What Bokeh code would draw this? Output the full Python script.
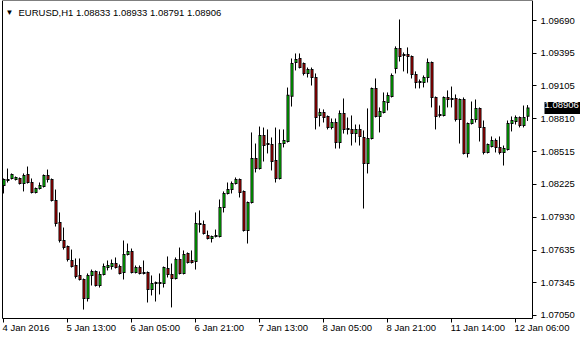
from bokeh.plotting import figure
from bokeh.models import Range1d, FixedTicker, Label, NumeralTickFormatter, LinearAxis
from bokeh.embed import file_html
from bokeh.resources import INLINE

open_ = [1.08213, 1.08258, 1.08276, 1.08267, 1.08276, 1.08231, 1.08312, 1.08240, 1.08151, 1.08186,
         1.08204, 1.08303, 1.08267, 1.08079, 1.07882, 1.07721, 1.07667, 1.07542, 1.07497, 1.07408,
         1.07372, 1.07202, 1.07408, 1.07444, 1.07318, 1.07417, 1.07479, 1.07488, 1.07515, 1.07488,
         1.07435, 1.07596, 1.07623, 1.07435, 1.07479, 1.07426, 1.07435, 1.07282, 1.07336, 1.07336,
         1.07336, 1.07470, 1.07417, 1.07381, 1.07551, 1.07426, 1.07605, 1.07542, 1.07533, 1.07873,
         1.07864, 1.07765, 1.07739, 1.07757, 1.07757, 1.08016, 1.08142, 1.08177, 1.08231, 1.08267,
         1.08160, 1.07810, 1.08061, 1.08455, 1.08365, 1.08661, 1.08589, 1.08580, 1.08437, 1.08276,
         1.08589, 1.08607, 1.09011, 1.09314, 1.09350, 1.09305, 1.09216, 1.09251, 1.09180, 1.08840,
         1.08867, 1.08831, 1.08733, 1.08777, 1.08598, 1.08858, 1.08715, 1.08715, 1.08679, 1.08715,
         1.08643, 1.08410, 1.08634, 1.09081, 1.08831, 1.08867, 1.08956, 1.09010, 1.09261, 1.09440,
         1.09386, 1.09386, 1.09368, 1.09207, 1.09135, 1.09135, 1.09180, 1.09314, 1.09001, 1.08840,
         1.08840, 1.09001, 1.08983, 1.08992, 1.08804, 1.08983, 1.08500, 1.08768, 1.08804, 1.08903,
         1.08733, 1.08509, 1.08562, 1.08616, 1.08554, 1.08509, 1.08535, 1.08768, 1.08786, 1.08822,
         1.08750, 1.08833]
high = [1.08276, 1.08365, 1.08321, 1.08294, 1.08285, 1.08321, 1.08383, 1.08276, 1.08195, 1.08240,
        1.08312, 1.08356, 1.08276, 1.08177, 1.07972, 1.07837, 1.07676, 1.07640, 1.07560, 1.07560,
        1.07381, 1.07426, 1.07461, 1.07453, 1.07444, 1.07515, 1.07542, 1.07551, 1.07569, 1.07506,
        1.07721, 1.07694, 1.07649, 1.07497, 1.07497, 1.07542, 1.07444, 1.07408, 1.07354, 1.07426,
        1.07488, 1.07578, 1.07515, 1.07569, 1.07658, 1.07632, 1.07614, 1.07632, 1.07972, 1.07990,
        1.07900, 1.07810, 1.07765, 1.07819, 1.08088, 1.08160, 1.08240, 1.08249, 1.08285, 1.08276,
        1.08169, 1.08070, 1.08688, 1.08589, 1.08741, 1.08732, 1.08715, 1.08643, 1.08732, 1.08715,
        1.08715, 1.09090, 1.09350, 1.09395, 1.09395, 1.09314, 1.09269, 1.09269, 1.09216, 1.08903,
        1.08894, 1.08840, 1.08813, 1.08813, 1.08885, 1.08992, 1.08822, 1.08840, 1.08759, 1.08759,
        1.08706, 1.08903, 1.09090, 1.09171, 1.08912, 1.09046, 1.09046, 1.09216, 1.09458, 1.09699,
        1.09404, 1.09449, 1.09377, 1.09234, 1.09162, 1.09198, 1.09350, 1.09323, 1.09010, 1.08929,
        1.09010, 1.09064, 1.09099, 1.09028, 1.08992, 1.09001, 1.08777, 1.08965, 1.08983, 1.08912,
        1.08795, 1.08589, 1.08652, 1.08634, 1.08652, 1.08571, 1.08795, 1.08831, 1.08840, 1.08831,
        1.08929, 1.08933]
low = [1.08142, 1.08240, 1.08267, 1.08258, 1.08222, 1.08160, 1.08231, 1.08142, 1.08142, 1.08177,
       1.08195, 1.08240, 1.08070, 1.07846, 1.07703, 1.07640, 1.07533, 1.07479, 1.07381, 1.07363,
       1.07103, 1.07175, 1.07318, 1.07309, 1.07300, 1.07408, 1.07453, 1.07461, 1.07470, 1.07417,
       1.07372, 1.07587, 1.07426, 1.07426, 1.07417, 1.07417, 1.07166, 1.07229, 1.07175, 1.07238,
       1.07300, 1.07390, 1.07122, 1.07372, 1.07417, 1.07417, 1.07515, 1.07515, 1.07461, 1.07792,
       1.07774, 1.07730, 1.07703, 1.07748, 1.07748, 1.07972, 1.08133, 1.08142, 1.08222, 1.08106,
       1.07801, 1.07694, 1.08052, 1.08330, 1.08356, 1.08428, 1.08500, 1.08348, 1.08240, 1.08267,
       1.08554, 1.08598, 1.08920, 1.09243, 1.09261, 1.09198, 1.09180, 1.09108, 1.08715, 1.08741,
       1.08777, 1.08715, 1.08715, 1.08544, 1.08544, 1.08678, 1.08670, 1.08571, 1.08598, 1.08571,
       1.08007, 1.08321, 1.08625, 1.08822, 1.08688, 1.08858, 1.08885, 1.09001, 1.09216, 1.09323,
       1.09234, 1.09216, 1.09171, 1.09082, 1.09082, 1.09091, 1.09135, 1.08912, 1.08715, 1.08822,
       1.08831, 1.08912, 1.08912, 1.08786, 1.08589, 1.08491, 1.08464, 1.08759, 1.08777, 1.08607,
       1.08491, 1.08500, 1.08554, 1.08509, 1.08491, 1.08392, 1.08526, 1.08697, 1.08759, 1.08733,
       1.08733, 1.08791]
close = [1.08267, 1.08267, 1.08312, 1.08285, 1.08231, 1.08303, 1.08240, 1.08151, 1.08186, 1.08213,
         1.08303, 1.08267, 1.08079, 1.07873, 1.07721, 1.07658, 1.07551, 1.07488, 1.07399, 1.07372,
         1.07202, 1.07408, 1.07444, 1.07318, 1.07417, 1.07488, 1.07497, 1.07515, 1.07479, 1.07426,
         1.07596, 1.07623, 1.07435, 1.07479, 1.07426, 1.07435, 1.07282, 1.07336, 1.07345, 1.07345,
         1.07479, 1.07417, 1.07381, 1.07551, 1.07426, 1.07596, 1.07524, 1.07524, 1.07873, 1.07864,
         1.07783, 1.07739, 1.07757, 1.07765, 1.08016, 1.08142, 1.08177, 1.08231, 1.08267, 1.08151,
         1.07810, 1.08061, 1.08455, 1.08365, 1.08661, 1.08572, 1.08580, 1.08428, 1.08276, 1.08589,
         1.08616, 1.09020, 1.09305, 1.09341, 1.09269, 1.09216, 1.09251, 1.09180, 1.08822, 1.08867,
         1.08822, 1.08733, 1.08777, 1.08598, 1.08858, 1.08715, 1.08724, 1.08679, 1.08715, 1.08652,
         1.08410, 1.08634, 1.09081, 1.08831, 1.08876, 1.08965, 1.09019, 1.09198, 1.09440, 1.09368,
         1.09377, 1.09368, 1.09207, 1.09135, 1.09144, 1.09180, 1.09314, 1.09001, 1.08831, 1.08849,
         1.09001, 1.08983, 1.08992, 1.08804, 1.08983, 1.08500, 1.08768, 1.08804, 1.08903, 1.08733,
         1.08509, 1.08580, 1.08616, 1.08554, 1.08509, 1.08544, 1.08768, 1.08795, 1.08822, 1.08750,
         1.08822, 1.08906]

price_ticks = [1.07050, 1.07345, 1.07635, 1.07930, 1.08225, 1.08515, 1.08810, 1.09105, 1.09395, 1.09690]
time_tick_bars = [0, 16, 32, 48, 64, 80, 96, 112, 128]
time_tick_labels = ["4 Jan 2016", "5 Jan 13:00", "6 Jan 05:00", "6 Jan 21:00", "7 Jan 13:00",
                    "8 Jan 05:00", "8 Jan 21:00", "11 Jan 14:00", "12 Jan 06:00"]
symbol = "EURUSD,H1"
last_price = 1.08906

UP = "#00FF00"
DOWN = "#E00000"
FONT = "Liberation Sans"
FS = 9.5                 # font size, px
W, H = 580, 340
PX_PER_BAR = 4.0         # horizontal scale
PRICE_PER_PX = 0.0000895 # vertical scale
PRICE_TOP = 1.09869      # price at the top edge of the canvas
BAR0_PX = 3.0            # canvas x of bar 0 (line glyphs get a half-pixel offset)
BOX_LEFT_PX, BOX_RIGHT_PX, BOX_TOP_PX, BOX_BOTTOM_PX = 2.0, 532.0, 0.0, 318.0
FILL_SHIFT = 0.5 / PX_PER_BAR   # fills are not offset, so shift them by half a pixel

def bx(px):   # canvas x -> bar coordinate
    return (px - BAR0_PX) / PX_PER_BAR

def py(px):   # canvas y -> price
    return PRICE_TOP - px * PRICE_PER_PX

ADV = {c: 0.556 for c in "0123456789an"}
ADV.update({" ": 0.278, ":": 0.278, "J": 0.5})

n = len(close)
idx = list(range(n))
body_top = [max(o, c) for o, c in zip(open_, close)]
body_bot = [min(o, c) for o, c in zip(open_, close)]
half = 0.5 * PRICE_PER_PX
up_idx = [i for i in idx if close[i] >= open_[i] and body_top[i] - body_bot[i] > 1.2 * PRICE_PER_PX]
dn_idx = [i for i in idx if close[i] < open_[i] and body_top[i] - body_bot[i] > 1.2 * PRICE_PER_PX]

p = figure(width=W, height=H, output_backend="svg", toolbar_location=None,
           x_range=Range1d(bx(0), bx(W)), y_range=Range1d(py(H), py(0)),
           x_axis_location=None, y_axis_location=None,
           min_border=0, min_border_left=0, min_border_right=0, min_border_top=0, min_border_bottom=0)
p.grid.visible = False
p.outline_line_color = None
p.background_fill_color = "white"
p.border_fill_color = "white"

# wicks
p.segment(x0=idx, y0=low, x1=idx, y1=high, line_color="black", line_width=1)
# body outline (3 px wide, black)
p.vbar(x=[i + FILL_SHIFT for i in idx], width=3 / PX_PER_BAR,
       top=[t + half for t in body_top], bottom=[b - half for b in body_bot],
       fill_color="black", line_color=None)
# body fill (1 px wide, inside the outline)
p.vbar(x=[i + FILL_SHIFT for i in up_idx], width=1 / PX_PER_BAR, top=[body_top[i] - half for i in up_idx],
       bottom=[body_bot[i] + half for i in up_idx], fill_color=UP, line_color=None)
p.vbar(x=[i + FILL_SHIFT for i in dn_idx], width=1 / PX_PER_BAR, top=[body_top[i] - half for i in dn_idx],
       bottom=[body_bot[i] + half for i in dn_idx], fill_color=DOWN, line_color=None)

xb0, xb1 = bx(BOX_LEFT_PX), bx(BOX_RIGHT_PX)
yb0, yb1 = py(BOX_BOTTOM_PX), py(BOX_TOP_PX)

def plain(**kw):
    base = dict(axis_line_color="black", axis_line_width=1, major_tick_in=0, minor_tick_in=0,
                minor_tick_out=0, major_label_text_font=FONT, major_label_text_font_size=f"{FS}px",
                major_label_text_color="black")
    base.update(kw)
    return LinearAxis(**base)

# price axis (right border of the box)
ya = plain(fixed_location=xb1, bounds=(yb0, yb1), ticker=FixedTicker(ticks=price_ticks),
           formatter=NumeralTickFormatter(format="0.00000"), major_tick_out=4, major_label_standoff=4)
p.add_layout(ya, "right")
# left border
p.add_layout(plain(fixed_location=xb0, bounds=(yb0, yb1), ticker=FixedTicker(ticks=[]),
                   major_tick_out=0), "left")
# top border
p.add_layout(plain(fixed_location=yb1, bounds=(xb0, xb1), ticker=FixedTicker(ticks=[]),
                   major_tick_out=0), "above")
# time axis: border + tick marks
p.add_layout(plain(fixed_location=yb0, bounds=(xb0, xb1), ticker=FixedTicker(ticks=time_tick_bars),
                   major_label_overrides={b: "" for b in time_tick_bars}, major_label_text_font_size="0px",
                   major_tick_out=4, major_label_standoff=0), "below")
# time axis labels, left-aligned at the tick marks
label_pos = []
for b, lab in zip(time_tick_bars, time_tick_labels):
    w = sum(ADV[c] for c in lab) * FS
    label_pos.append(b + (w / 2 - 1) / PX_PER_BAR)
p.add_layout(plain(fixed_location=yb0, ticker=FixedTicker(ticks=label_pos), axis_line_color=None,
                   major_label_overrides={v: l for v, l in zip(label_pos, time_tick_labels)},
                   major_tick_out=0, major_label_standoff=3), "below")

# current price marker
lab_kw = dict(x=544, y=last_price, x_units="screen", y_units="data", text=f"{last_price:.5f}",
              text_color="white", background_fill_color="black", text_font=FONT,
              text_font_size=f"{FS}px", text_baseline="middle", text_align="left")
if "padding" in Label.properties():
    lab_kw["padding"] = (0, 4, 0, 6)
p.add_layout(Label(**lab_kw))

# header
p.add_layout(Label(x=5, y=H - 12, x_units="screen", y_units="screen", text="\u25BC",
                   text_color="black", text_font=FONT, text_font_size="8px", text_baseline="middle"))
p.add_layout(Label(x=18, y=H - 12, x_units="screen", y_units="screen",
                   text=f"{symbol}  {open_[-1]:.5f} {high[-1]:.5f} {low[-1]:.5f} {close[-1]:.5f}",
                   text_color="black", text_font=FONT, text_font_size=f"{FS}px", text_baseline="middle"))

open("out.html", "w").write(file_html(p, INLINE))
